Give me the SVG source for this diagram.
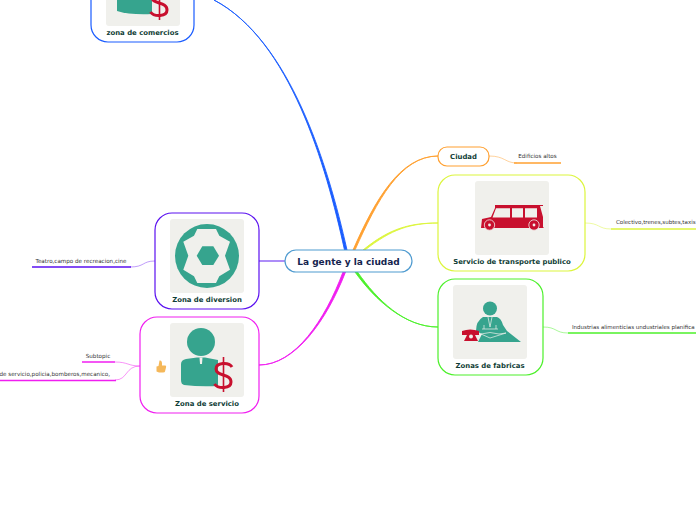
<svg xmlns="http://www.w3.org/2000/svg" width="696" height="520" viewBox="0 0 696 520">
<style>
text{font-family:"DejaVu Sans","Verdana",sans-serif;text-anchor:middle}
.t{font-size:6.9px;font-weight:bold;fill:#0f3d36}
.s{font-size:5.6px;fill:#333}
.st{font-size:5.5px;fill:#333;text-anchor:start}
.box{fill:#fff;stroke-width:1.2}
.img{fill:#f0f0ec}
.g{fill:#36a48e}
.r{fill:#c8102e}
.f{fill:none;stroke-width:.8;opacity:.6}
.u{fill:none;stroke-width:1.5}
</style>
<defs>
<g id="dollar">
<path fill="none" stroke="#c8102e" stroke-width="3" d="M232 367C229 362 216 362 216 369C216 377 231 373 231 382C231 389 218 389 214.500 384"/>
<path fill="none" stroke="#c8102e" stroke-width="1.600" d="M223.500 357V392"/>
</g>
</defs>
<g id="connectors">
<path fill="#1a5cff" stroke="#1a5cff" stroke-width=".9" d="M344.500 250C326 165 290 40 214 0C290 40 328 165 347 250Z"/>
<path fill="#ffa030" stroke="#ffa030" stroke-width=".9" d="M353 250C375 200 400 156 438 156C400 156.300 377 201 355 250Z"/>
<path fill="#dcf53c" stroke="#dcf53c" stroke-width=".9" d="M363 250C390 228 410 223 438 223C410 223.300 392 229 365 250Z"/>
<path fill="#4cf02a" stroke="#4cf02a" stroke-width=".9" d="M355 272C375 300 405 327 438 327C405 327.300 377 300 357.500 272Z"/>
<path fill="none" stroke="#8a5cf5" stroke-width="1.400" d="M285 261H259"/>
<path fill="#f01ef0" stroke="#f01ef0" stroke-width=".9" d="M343 272C325 320 295 365 259 365C295 365.300 327 320 345.500 272Z"/>
<path class="f" stroke="#ffa030" d="M489 156C505 156 505 163 517 163"/>
<path class="u" stroke="#ffa030" d="M514 163H561"/>
<path class="f" stroke="#dcf53c" d="M585 223C600 223 598 229 611 229"/>
<path class="u" stroke="#dcf53c" d="M611 229H696"/>
<path class="f" stroke="#4cf02a" d="M543 327C557 327 555 333 568 333"/>
<path class="u" stroke="#4cf02a" d="M568 333H696"/>
<path class="f" stroke="#7a30f5" d="M155 261C142 261 145 267 130 267"/>
<path class="u" stroke="#5a10f0" d="M32 267H131"/>
<path class="f" stroke="#f01ef0" d="M140 366C128 366 128 362 115 362"/>
<path class="u" stroke="#f01ef0" d="M82 362H115"/>
<path class="f" stroke="#f01ef0" d="M140 366C125 366 128 380 115 380"/>
<path class="u" stroke="#f01ef0" d="M0 380.500H116"/>
</g>
<g id="node-central">
<rect x="285" y="250" width="127" height="22" rx="11" fill="#fff" stroke="#4f9bd0" stroke-width="1.200"/>
<text x="348.500" y="264.500" font-size="9" font-weight="bold" fill="#14244e">La gente y la ciudad</text>
</g>
<g id="node-comercios">
<rect class="box" x="91" y="-54" width="103" height="96" rx="17" stroke="#1a5cff"/>
<rect class="img" x="106" y="-48" width="74" height="74" rx="3"/>
<path class="g" d="M117 -4H152V14Q130 15 117 11Z"/>
<use href="#dollar" transform="translate(-64,-372)"/>
<text class="t" x="142.500" y="35">zona de comercios</text>
</g>
<g id="node-diversion">
<rect class="box" x="155" y="213" width="104" height="96" rx="17" stroke="#5a10f0"/>
<rect class="img" x="170" y="219" width="74" height="74" rx="3"/>
<circle class="g" cx="207" cy="256" r="32"/>
<path fill="#f0f0ec" d="M197.300 229H216L219.300 235.700L230 241.700L225 255.700L230 269.700L219.300 276.300L216 283H197.300L194 276.300L183.300 269.700L188.300 255.700L183.300 241.700L194 235.700Z"/>
<path class="g" d="M196.700 255.700L202.300 246.300H213.300L219 255.700L213.300 265H202.300Z"/>
<text class="t" x="207" y="301.500">Zona de diversion</text>
</g>
<g id="node-servicio">
<rect class="box" x="140" y="317" width="119" height="96" rx="17" stroke="#f01ef0"/>
<rect class="img" x="170" y="323" width="74" height="74" rx="3"/>
<circle class="g" cx="201" cy="342" r="14"/>
<path class="g" d="M181 364Q181 360 186 359L197 357.500H205L218 360V386Q200 387 184 385Q181 384 181 380Z"/>
<path fill="#f0f0ec" d="M199.500 357.500H202.500L202 364H200Z"/>
<use href="#dollar"/>
<path fill="#f5b85a" d="M159.500 360.500Q162.500 360 162 365.500H165.500Q166.500 366 166 367.500L165 371.500Q165 372.500 163 372.500H159L156.500 371.500V366.500L158.500 366Z"/>
<text class="t" x="207" y="405.500">Zona de servicio</text>
</g>
<g id="node-ciudad">
<rect class="box" x="438" y="147" width="51" height="19" rx="9" stroke="#ffa030"/>
<text class="t" x="463.500" y="159">Ciudad</text>
</g>
<g id="node-transporte">
<rect class="box" x="438" y="175" width="147" height="96" rx="17" stroke="#dcf53c"/>
<rect class="img" x="475" y="181" width="74" height="74" rx="3"/>
<path class="r" d="M495 205H543V206H540L543 217V227L544 228H481L482 219L491 217L495 208Z"/>
<path fill="#f0f0ec" d="M496 208.300H510V217.500H492.500ZM512 208.300H523V217.500H512ZM525 208.300H537V217.500H525Z"/>
<circle class="r" cx="489.500" cy="225" r="5.200" stroke="#f0f0ec" stroke-width=".8"/><circle cx="489.500" cy="225" r="1.400" fill="#f0f0ec"/>
<circle class="r" cx="534" cy="225" r="5.200" stroke="#f0f0ec" stroke-width=".8"/><circle cx="534" cy="225" r="1.400" fill="#f0f0ec"/>
<text class="t" x="512" y="264">Servicio de transporte publico</text>
</g>
<g id="node-fabricas">
<rect class="box" x="438" y="279" width="105" height="96" rx="17" stroke="#4cf02a"/>
<rect class="img" x="453" y="285" width="74" height="74" rx="3"/>
<circle class="g" cx="490" cy="308.500" r="7"/>
<path class="g" d="M483 317H497Q501 318 503 325L507 331L521 342H478L482 334L476 331Q476 321 483 317Z"/>
<path fill="none" stroke="#f0f0ec" stroke-width=".7" d="M488 317L490 327L492 317M482 329H498M484 325V329M496 325V329M481 334Q490 331 499 334L506 333L490 338L481 334"/>
<path class="r" d="M462 331Q470 328 479 331V335H475L478 341H464L467 335H462Z"/>
<circle cx="471" cy="336.500" r="2" fill="#f0f0ec"/>
<text class="t" x="490" y="368">Zonas de fabricas</text>
</g>
<g id="labels">
<text class="s" x="537.500" y="158">Edificios altos</text>
<text class="st" x="616" y="224">Colectivo,trenes,subtes,taxis</text>
<text class="st" x="572" y="329">Industrias alimenticias undustriales planifica</text>
<text class="s" x="81" y="263">Teatro,campo de recreacion,cine</text>
<text class="s" x="98" y="358">Subtopic</text>
<text class="s" x="110" y="376" style="text-anchor:end">de servicio,policia,bomberos,mecanico,</text>
</g>
</svg>
